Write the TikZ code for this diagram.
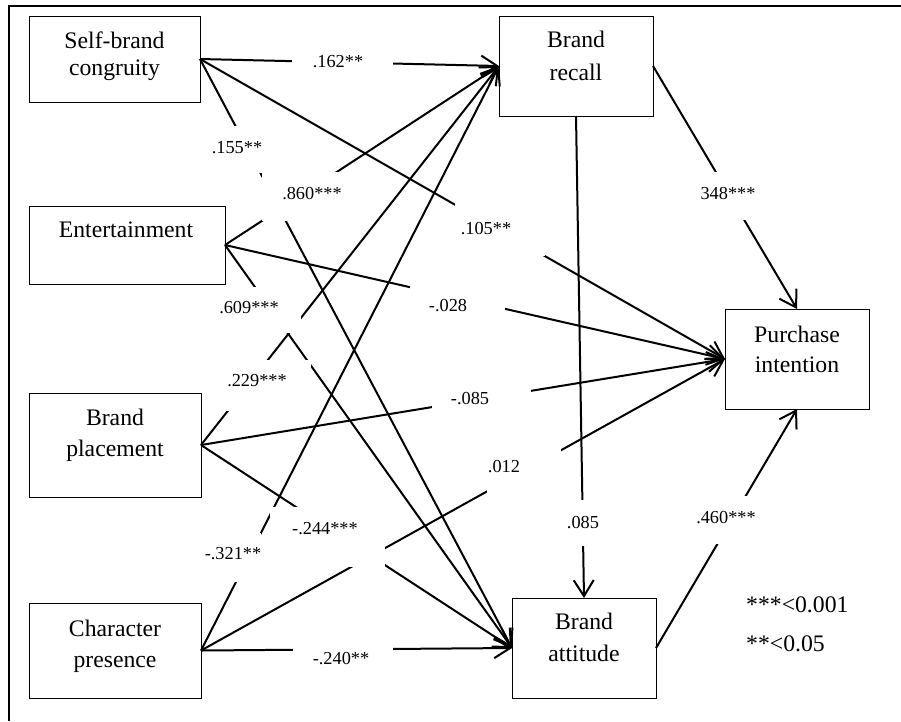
\documentclass[tikz,border=0pt]{standalone}
\usepackage{fontspec}
\setmainfont{Liberation Serif}
\usetikzlibrary{arrows.meta}
\begin{document}
\begin{tikzpicture}[x=1pt,y=-1pt,
  var/.style={draw, line width=1pt, inner sep=0pt, outer sep=0pt, rectangle},
  vtext/.style={anchor=base, inner sep=0pt, font=\fontsize{23.7}{28}\selectfont},
  conn/.style={line width=2pt, -{Straight Barb[length=16pt,width=20pt]}},
  gapbox/.style={fill=white, inner sep=0pt, outer sep=0pt, rectangle},
  ltext/.style={anchor=base, inner sep=0pt, font=\fontsize{18.3}{21}\selectfont}]
\useasboundingbox (0,0) rectangle (901,721);
% frame (cropped)
\draw[line width=2.2pt] (9,721) -- (9,6) -- (901,6);

% variable boxes
\node[var, minimum width=171pt, minimum height=86pt]  (sbc) at (114.5,59) {};
\node[var, minimum width=196pt, minimum height=78pt]  (ent) at (127,245) {};
\node[var, minimum width=172pt, minimum height=104pt] (bp)  at (115,445) {};
\node[var, minimum width=172pt, minimum height=95pt]  (cp)  at (115,650.5) {};
\node[var, minimum width=154pt, minimum height=100pt] (br)  at (576,66) {};
\node[var, minimum width=144pt, minimum height=100pt] (pi)  at (797,359) {};
\node[var, minimum width=144pt, minimum height=100pt] (ba)  at (584,648) {};

% connectors
\draw[conn] (sbc.east) -- (br.west);
\draw[conn] (sbc.east) -- (pi.west);
\draw[conn] (sbc.east) -- (ba.west);
\draw[conn] (ent.east) -- (br.west);
\draw[conn] (ent.east) -- (pi.west);
\draw[conn] (ent.east) -- (ba.west);
\draw[conn] (bp.east) -- (br.west);
\draw[conn] (bp.east) -- (pi.west);
\draw[conn] (bp.east) -- (ba.west);
\draw[conn] (cp.east) -- (br.west);
\draw[conn] (cp.east) -- (pi.west);
\draw[conn] (cp.east) -- (ba.west);
\draw[conn] (br.east) -- (pi.north);
\draw[conn] (br.south) -- (ba.north);
\draw[conn] (ba.east) -- (pi.south);

% white label backgrounds
\node[gapbox, minimum width=101pt, minimum height=36pt] (g1)  at (342.5,62) {};
\node[gapbox, minimum width=90pt,  minimum height=56pt] (g2)  at (500,228) {};
\node[gapbox, minimum width=64pt,  minimum height=47pt] (g3)  at (237,149.5) {};
\node[gapbox, minimum width=83pt,  minimum height=49pt] (g4)  at (303.5,196.5) {};
\node[gapbox, minimum width=95pt,  minimum height=40pt] (g5)  at (457.5,305) {};
\node[gapbox, minimum width=104pt, minimum height=46pt] (g6)  at (249,310) {};
\node[gapbox, minimum width=96pt,  minimum height=51pt] (g7)  at (263,385.5) {};
\node[gapbox, minimum width=99pt,  minimum height=40pt] (g8)  at (481.5,400) {};
\node[gapbox, minimum width=115pt, minimum height=60pt] (g9)  at (327.5,537) {};
\node[gapbox, minimum width=66pt,  minimum height=49pt] (g10) at (228,557.5) {};
\node[gapbox, minimum width=74pt,  minimum height=50pt] (g11) at (524,470) {};
\node[gapbox, minimum width=100pt, minimum height=45pt] (g12) at (343,657.5) {};
\node[gapbox, minimum width=70pt,  minimum height=48pt] (g13) at (730,196) {};
\node[gapbox, minimum width=46pt,  minimum height=46pt] (g14) at (583,523) {};
\node[gapbox, minimum width=75pt,  minimum height=48pt] (g15) at (727.5,520) {};

% label texts
\node[ltext] (t1)  at (338,67)  {.162**};
\node[ltext] (t2)  at (486,234) {.105**};
\node[ltext] (t3)  at (237,153) {.155**};
\node[ltext] (t4)  at (312,199) {.860***};
\node[ltext] (t5)  at (448,311) {-.028};
\node[ltext] (t6)  at (249,313) {.609***};
\node[ltext] (t7)  at (257,386) {.229***};
\node[ltext] (t8)  at (470,404) {-.085};
\node[ltext] (t9)  at (325,534) {-.244***};
\node[ltext] (t10) at (233,559) {-.321**};
\node[ltext] (t11) at (504,472) {.012};
\node[ltext] (t12) at (341,664) {-.240**};
\node[ltext] (t13) at (728,199) {348***};
\node[ltext] (t14) at (583,528) {.085};
\node[ltext] (t15) at (726,523) {.460***};

% box texts
\node[vtext] (sbc1) at (114.5,48.3) {Self-brand};
\node[vtext] (sbc2) at (114.5,75.7) {congruity};
\node[vtext] (ent1) at (126,237)    {Entertainment};
\node[vtext] (bp1)  at (115,425.7)  {Brand};
\node[vtext] (bp2)  at (115,456.7)  {placement};
\node[vtext] (cp1)  at (115,636)    {Character};
\node[vtext] (cp2)  at (115,667)    {presence};
\node[vtext] (br1)  at (576,47.3)   {Brand};
\node[vtext] (br2)  at (576,80)     {recall};
\node[vtext] (pi1)  at (797,342.3)  {Purchase};
\node[vtext] (pi2)  at (797,372.7)  {intention};
\node[vtext] (ba1)  at (584,629.3)  {Brand};
\node[vtext] (ba2)  at (584,661)    {attitude};

% legend
\node[vtext, anchor=base west] (leg1) at (746,612.7) {***<0.001};
\node[vtext, anchor=base west] (leg2) at (746,651.7) {**<0.05};
\end{tikzpicture}
\end{document}
